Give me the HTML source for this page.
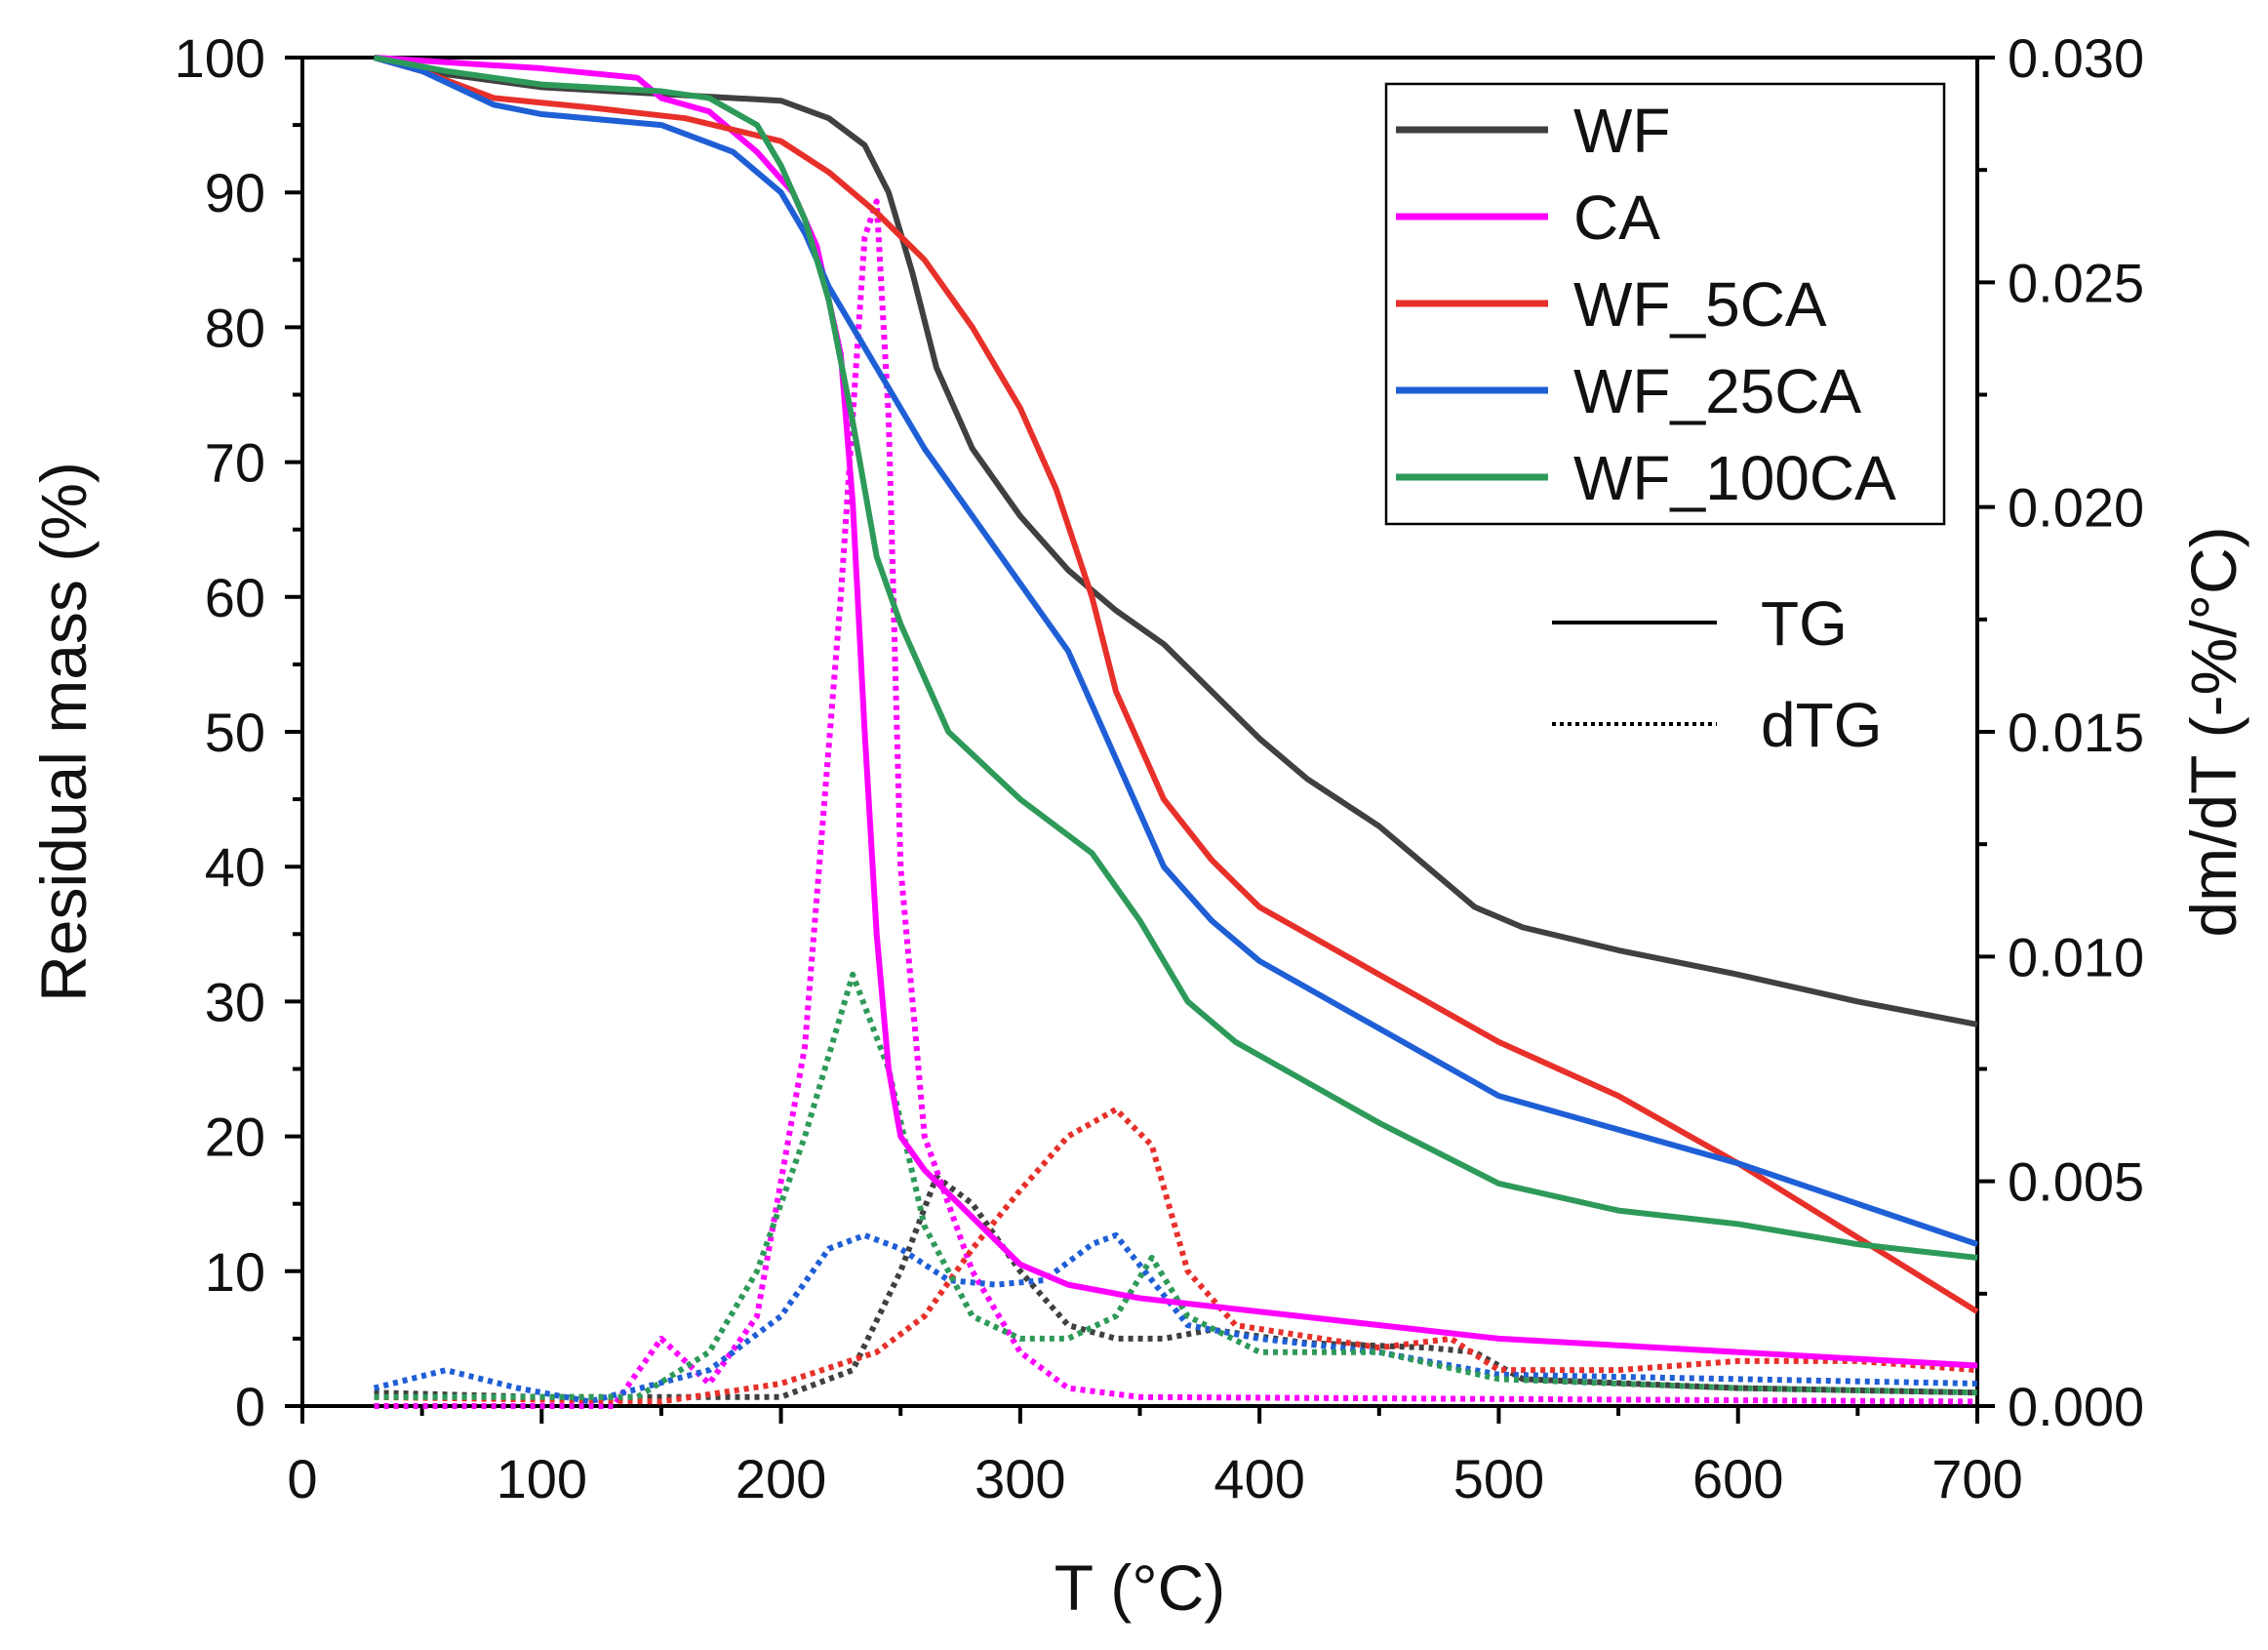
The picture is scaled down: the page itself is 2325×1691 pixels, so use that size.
<!DOCTYPE html>
<html><head><meta charset="utf-8"><style>
html,body{margin:0;padding:0;background:#fff}
svg{display:block}
text{font-family:"Liberation Sans",Arial,sans-serif;fill:#111}
</style></head><body>
<svg id="chart" width="2325" height="1691" viewBox="0 0 2325 1691" xmlns="http://www.w3.org/2000/svg">
<g id="axes"></g>
<g id="series"></g>
<g id="legend"></g>
</svg>
<script>
const xTicks=[0,100,200,300,400,500,600,700];
const yTicks=[0,10,20,30,40,50,60,70,80,90,100];
const y2Ticks=["0.000","0.005","0.010","0.015","0.020","0.025","0.030"];
const seriesNames=["WF","CA","WF_5CA","WF_25CA","WF_100CA"];
const seriesColors=["#404040","#ff00ff","#e8302a","#1f5fd6","#2e9a5a"];
const tgWF=[[30,100],[50,99],[100,97.8],[150,97.3],[180,97],[200,96.8],[220,95.5],[235,93.5],[245,90],[255,84],[265,77],[280,71],[300,66],[320,62],[340,59],[360,56.5],[380,53],[400,49.5],[420,46.5],[450,43],[470,40],[490,37],[510,35.5],[550,33.8],[600,32],[650,30],[700,28.3]];
const tgCA=[[30,100],[100,99.2],[140,98.5],[150,97],[170,96],[190,93],[205,90],[215,86],[225,78],[230,67],[235,50],[240,35],[245,25],[250,20],[260,17.5],[280,14],[300,10.5],[320,9],[350,8],[400,7],[500,5],[600,4],[700,3]];
const tg5CA=[[30,100],[50,99],[80,97],[120,96.3],[160,95.5],[200,93.8],[220,91.5],[240,88.5],[260,85],[280,80],[300,74],[315,68],[330,60],[340,53],[360,45],[380,40.5],[400,37],[450,32],[500,27],[550,23],[600,18],[650,12.5],[700,7]];
const tg25CA=[[30,100],[50,99],[80,96.5],[100,95.8],[150,95],[180,93],[200,90],[210,87],[220,83],[240,77],[260,71],[280,66],[300,61],[320,56],[340,48],[360,40],[380,36],[400,33],[450,28],[500,23],[550,20.5],[600,18],[650,15],[700,12]];
const tg100CA=[[30,100],[60,99],[100,98],[150,97.5],[170,97],[190,95],[200,92],[210,88],[220,82],[230,73],[240,63],[250,58],[270,50],[300,45],[330,41],[350,36],[370,30],[390,27],[420,24],[450,21],[500,16.5],[550,14.5],[600,13.5],[650,12],[700,11]];
const dtgWF=[[30,0.0003],[100,0.0002],[200,0.0002],[230,0.0008],[250,0.003],[265,0.0051],[280,0.0045],[300,0.003],[320,0.0018],[340,0.0015],[360,0.0015],[380,0.0017],[420,0.0014],[470,0.0013],[490,0.0012],[510,0.0006],[600,0.0004],[700,0.0003]];
const dtgCA=[[30,0],[130,0],[150,0.0015],[160,0.001],[170,0.0005],[190,0.002],[210,0.008],[225,0.018],[235,0.026],[240,0.0268],[245,0.022],[250,0.012],[260,0.006],[280,0.003],[300,0.0012],[320,0.0004],[350,0.0002],[700,0.0001]];
const dtg5CA=[[30,0.0002],[150,0.0001],[200,0.0005],[240,0.0012],[260,0.002],[280,0.0035],[300,0.0048],[320,0.006],[340,0.0066],[355,0.0058],[370,0.003],[390,0.0018],[450,0.0013],[480,0.0015],[500,0.0008],[550,0.0008],[600,0.001],[650,0.001],[700,0.0008]];
const dtg25CA=[[30,0.0004],[60,0.0008],[90,0.0004],[120,0.0001],[170,0.0008],[200,0.002],[220,0.0035],[235,0.0038],[250,0.0035],[270,0.0028],[290,0.0027],[310,0.0028],[330,0.0036],[340,0.0038],[355,0.0028],[370,0.0018],[400,0.0015],[450,0.0012],[500,0.0007],[600,0.0006],[700,0.0005]];
const dtg100CA=[[30,0.0002],[100,0.0002],[140,0.0002],[170,0.0012],[190,0.003],[210,0.006],[230,0.0096],[245,0.0075],[260,0.004],[280,0.002],[300,0.0015],[320,0.0015],[340,0.002],[355,0.0033],[370,0.002],[400,0.0012],[450,0.0012],[500,0.0006],[600,0.0004],[700,0.0003]];

const L=310,R=2027,T=59,B=1441;
const xs=v=>L+(v/700)*(R-L);
const ys=v=>B-(v/100)*(B-T);
const y2s=v=>B-(v/0.03)*(B-T);
const NS="http://www.w3.org/2000/svg";
function mk(tag,attrs,parent){const e=document.createElementNS(NS,tag);for(const k in attrs)e.setAttribute(k,attrs[k]);parent.appendChild(e);return e;}
const ax=document.getElementById('axes'),sg=document.getElementById('series'),lg=document.getElementById('legend');

let frame=mk('rect',{x:L,y:T,width:R-L,height:B-T,fill:'none',stroke:'#000','stroke-width':4},ax);


for(let v=0;v<=700;v+=50){const major=v%100===0;
 const t=mk('line',{x1:xs(v),x2:xs(v),y1:B,y2:B+(major?18:10),stroke:'#000','stroke-width':4},ax);
 
 }
xTicks.forEach(v=>{const t=mk('text',{x:xs(v),y:1535,'font-size':56,'text-anchor':'middle'},ax);t.textContent=v;
 
 });
for(let v=0;v<=100;v+=5){const major=v%10===0;
 const t=mk('line',{x1:L,x2:L-(major?18:10),y1:ys(v),y2:ys(v),stroke:'#000','stroke-width':4},ax);
 
 }
yTicks.forEach(v=>{const t=mk('text',{x:272,y:ys(v)+20,'font-size':56,'text-anchor':'end'},ax);t.textContent=v;
 
 });
for(let i=0;i<=12;i++){const v=i*0.0025;const major=i%2===0;
 const t=mk('line',{x1:R,x2:R+(major?18:10),y1:y2s(v),y2:y2s(v),stroke:'#000','stroke-width':4},ax);
 
 }
y2Ticks.forEach(s=>{const t=mk('text',{x:2058,y:y2s(parseFloat(s))+20,'font-size':56,'text-anchor':'start'},ax);t.textContent=s;
 
 });
let xt=mk('text',{x:(L+R)/2,y:1650,'font-size':66,'text-anchor':'middle'},ax);xt.textContent='T (°C)';


let yt=mk('text',{x:0,y:0,'font-size':66,'text-anchor':'middle',transform:`translate(88,${(T+B)/2}) rotate(-90)`},ax);yt.textContent='Residual mass (%)';


let y2t=mk('text',{x:0,y:0,'font-size':66,'text-anchor':'middle',transform:`translate(2292,${(T+B)/2}) rotate(-90)`},ax);y2t.textContent='dm/dT (-%/°C)';



const tgs=[tgWF,tgCA,tg5CA,tg25CA,tg100CA];
const dtgs=[dtgWF,dtgCA,dtg5CA,dtg25CA,dtg100CA];
dtgs.forEach((d,i)=>{const p=mk('polyline',{points:d.map(q=>xs(q[0])+','+y2s(q[1])).join(' '),fill:'none',stroke:seriesColors[i],'stroke-width':6,'stroke-dasharray':'5 5','stroke-linejoin':'round'},sg);
 
 });
tgs.forEach((d,i)=>{const p=mk('polyline',{points:d.map(q=>xs(q[0])+','+ys(q[1])).join(' '),fill:'none',stroke:seriesColors[i],'stroke-width':6,'stroke-linejoin':'round'},sg);
 
 });

let box=mk('rect',{x:1421,y:86,width:572,height:451,fill:'#fff',stroke:'#000','stroke-width':2.5},lg);


seriesNames.forEach((n,i)=>{const y=133+i*89;
 const l=mk('line',{x1:1431,x2:1587,y1:y,y2:y,stroke:seriesColors[i],'stroke-width':7},lg);
 
 
 const t=mk('text',{x:1613,y:y+23,'font-size':64},lg);t.textContent=n;
 
 });
let l1=mk('line',{x1:1591,x2:1760,y1:638,y2:638,stroke:'#000','stroke-width':4},lg);


let t1=mk('text',{x:1805,y:661,'font-size':64},lg);t1.textContent='TG';


let l2=mk('line',{x1:1591,x2:1760,y1:742,y2:742,stroke:'#000','stroke-width':4,'stroke-dasharray':'4 4'},lg);


let t2=mk('text',{x:1805,y:765,'font-size':64},lg);t2.textContent='dTG';


</script>
</body></html>
